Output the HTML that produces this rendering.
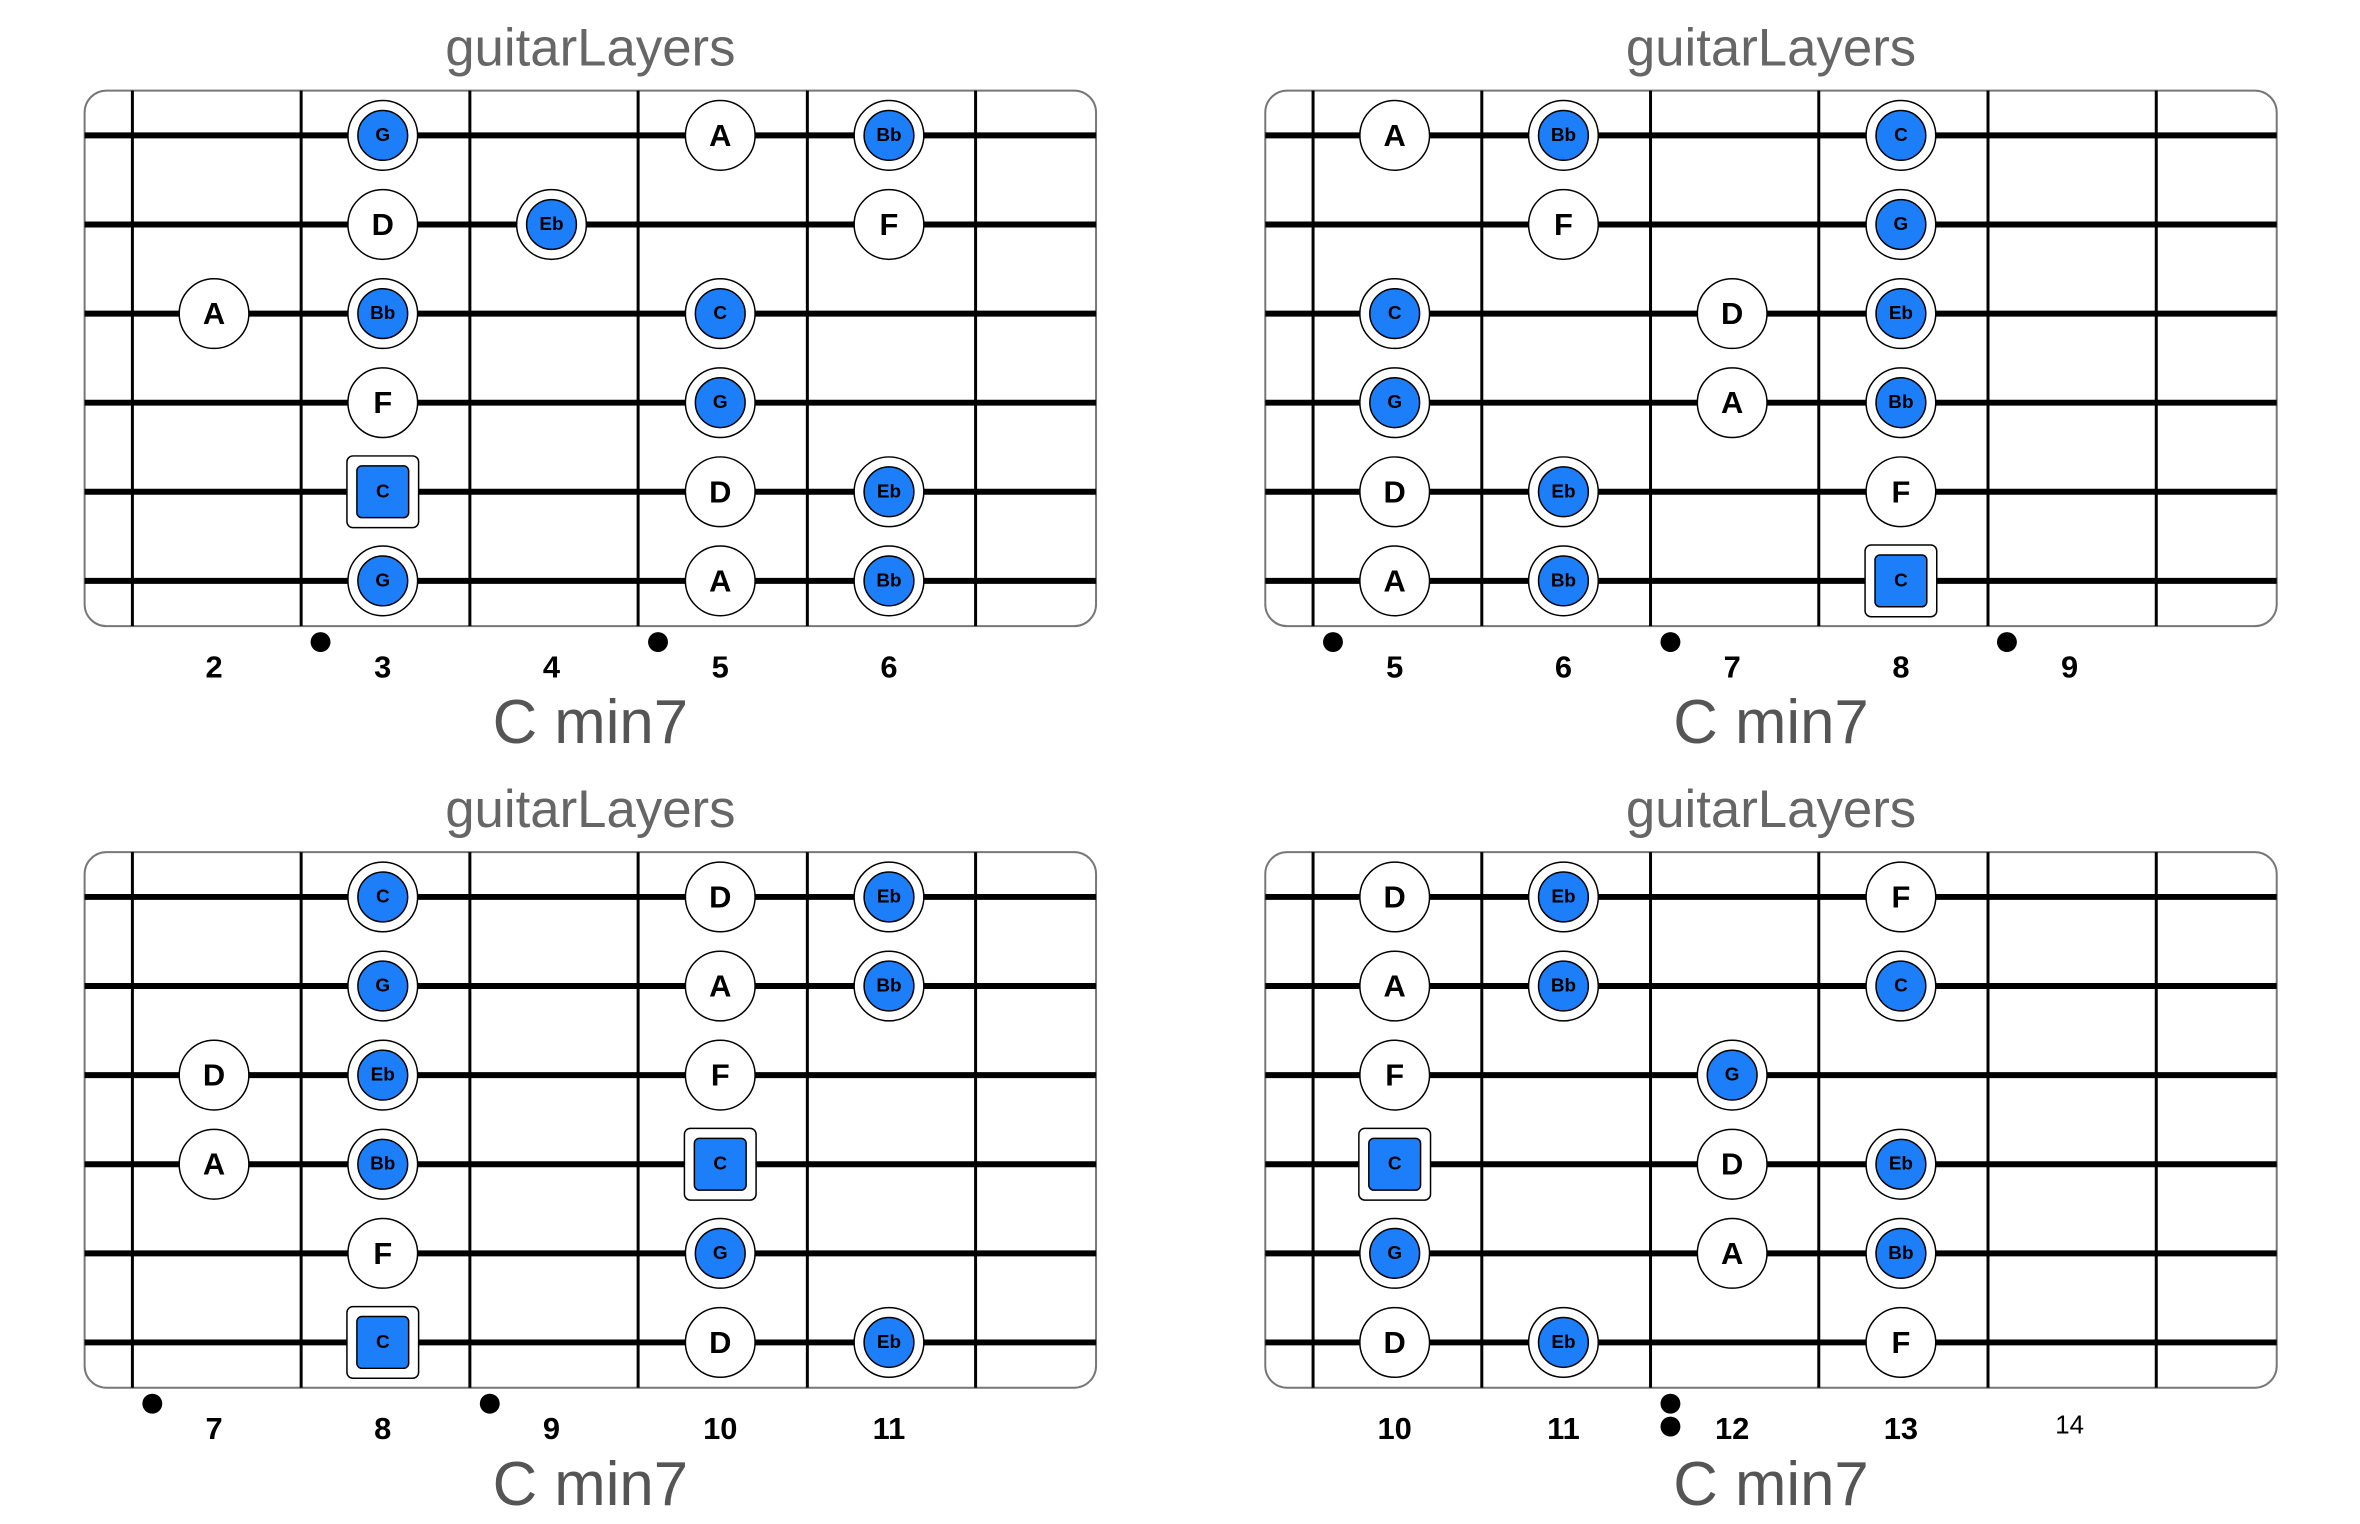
<!DOCTYPE html>
<html><head><meta charset="utf-8"><style>
html,body{margin:0;padding:0;background:#fff}
svg{display:block}
text{font-family:"Liberation Sans",Arial,sans-serif}
.t{font-size:53px;fill:#666;text-anchor:middle;dominant-baseline:central}
.c{font-size:62px;fill:#555;text-anchor:middle;dominant-baseline:central}
.n{font-size:31px;font-weight:bold;text-anchor:middle;dominant-baseline:central}
.w{font-size:31px;font-weight:bold;text-anchor:middle;dominant-baseline:central}
.b{font-size:19px;font-weight:bold;text-anchor:middle;dominant-baseline:central}
.oc{fill:#fff;stroke:#000;stroke-width:1.5}
.ic{fill:#1c7ef8;stroke:#000;stroke-width:1.5}
</style></head><body>
<svg width="2360" height="1524" viewBox="0 0 2360 1524" xmlns="http://www.w3.org/2000/svg">
<defs>
<g id="board">
<rect x="85" y="91" width="1016" height="538" rx="22" fill="#fff" stroke="#777" stroke-width="2"/>
<g stroke="#000" stroke-width="3">
<line x1="133" y1="91" x2="133" y2="629"/><line x1="302.5" y1="91" x2="302.5" y2="629"/><line x1="472" y1="91" x2="472" y2="629"/><line x1="641" y1="91" x2="641" y2="629"/><line x1="811" y1="91" x2="811" y2="629"/><line x1="980" y1="91" x2="980" y2="629"/>
</g>
<g stroke="#000" stroke-width="6">
<line x1="85" y1="136" x2="1101" y2="136"/><line x1="85" y1="225.5" x2="1101" y2="225.5"/><line x1="85" y1="315" x2="1101" y2="315"/><line x1="85" y1="404.5" x2="1101" y2="404.5"/><line x1="85" y1="494" x2="1101" y2="494"/><line x1="85" y1="583.5" x2="1101" y2="583.5"/>
</g>
</g>
<g id="wc"><circle r="35" class="oc"/></g>
<g id="bc"><circle r="35" class="oc"/><circle r="25" class="ic"/></g>
<g id="rs"><rect x="-36" y="-36" width="72" height="72" rx="6" class="oc"/><rect x="-26" y="-26" width="52" height="52" rx="5" class="ic"/></g>
</defs>
<g transform="scale(0.9955)">
<!-- Panel 1 -->
<g>
<text x="593" y="48" class="t">guitarLayers</text>
<use href="#board"/>
<use href="#bc" x="384.5" y="136"/><text x="384.5" y="136" class="b">G</text>
<use href="#wc" x="723.5" y="136"/><text x="723.5" y="136" class="w">A</text>
<use href="#bc" x="893" y="136"/><text x="893" y="136" class="b">Bb</text>
<use href="#wc" x="384.5" y="225.5"/><text x="384.5" y="225.5" class="w">D</text>
<use href="#bc" x="554" y="225.5"/><text x="554" y="225.5" class="b">Eb</text>
<use href="#wc" x="893" y="225.5"/><text x="893" y="225.5" class="w">F</text>
<use href="#wc" x="215" y="315"/><text x="215" y="315" class="w">A</text>
<use href="#bc" x="384.5" y="315"/><text x="384.5" y="315" class="b">Bb</text>
<use href="#bc" x="723.5" y="315"/><text x="723.5" y="315" class="b">C</text>
<use href="#wc" x="384.5" y="404.5"/><text x="384.5" y="404.5" class="w">F</text>
<use href="#bc" x="723.5" y="404.5"/><text x="723.5" y="404.5" class="b">G</text>
<use href="#rs" x="384.5" y="494"/><text x="384.5" y="494" class="b">C</text>
<use href="#wc" x="723.5" y="494"/><text x="723.5" y="494" class="w">D</text>
<use href="#bc" x="893" y="494"/><text x="893" y="494" class="b">Eb</text>
<use href="#bc" x="384.5" y="583.5"/><text x="384.5" y="583.5" class="b">G</text>
<use href="#wc" x="723.5" y="583.5"/><text x="723.5" y="583.5" class="w">A</text>
<use href="#bc" x="893" y="583.5"/><text x="893" y="583.5" class="b">Bb</text>
<circle cx="322" cy="645" r="10" fill="#000"/><circle cx="661" cy="645" r="10" fill="#000"/>
<text x="215" y="670" class="n">2</text><text x="384.5" y="670" class="n">3</text><text x="554" y="670" class="n">4</text><text x="723.5" y="670" class="n">5</text><text x="893" y="670" class="n">6</text>
<text x="593" y="726" class="c">C min7</text>
</g>

<!-- Panel 2 -->
<g transform="translate(1186,0)">
<text x="593" y="48" class="t">guitarLayers</text>
<use href="#board"/>
<use href="#wc" x="215" y="136"/><text x="215" y="136" class="w">A</text>
<use href="#bc" x="384.5" y="136"/><text x="384.5" y="136" class="b">Bb</text>
<use href="#bc" x="723.5" y="136"/><text x="723.5" y="136" class="b">C</text>
<use href="#wc" x="384.5" y="225.5"/><text x="384.5" y="225.5" class="w">F</text>
<use href="#bc" x="723.5" y="225.5"/><text x="723.5" y="225.5" class="b">G</text>
<use href="#bc" x="215" y="315"/><text x="215" y="315" class="b">C</text>
<use href="#wc" x="554" y="315"/><text x="554" y="315" class="w">D</text>
<use href="#bc" x="723.5" y="315"/><text x="723.5" y="315" class="b">Eb</text>
<use href="#bc" x="215" y="404.5"/><text x="215" y="404.5" class="b">G</text>
<use href="#wc" x="554" y="404.5"/><text x="554" y="404.5" class="w">A</text>
<use href="#bc" x="723.5" y="404.5"/><text x="723.5" y="404.5" class="b">Bb</text>
<use href="#wc" x="215" y="494"/><text x="215" y="494" class="w">D</text>
<use href="#bc" x="384.5" y="494"/><text x="384.5" y="494" class="b">Eb</text>
<use href="#wc" x="723.5" y="494"/><text x="723.5" y="494" class="w">F</text>
<use href="#wc" x="215" y="583.5"/><text x="215" y="583.5" class="w">A</text>
<use href="#bc" x="384.5" y="583.5"/><text x="384.5" y="583.5" class="b">Bb</text>
<use href="#rs" x="723.5" y="583.5"/><text x="723.5" y="583.5" class="b">C</text>
<circle cx="153" cy="645" r="10" fill="#000"/><circle cx="492" cy="645" r="10" fill="#000"/><circle cx="830" cy="645" r="10" fill="#000"/>
<text x="215" y="670" class="n">5</text><text x="384.5" y="670" class="n">6</text><text x="554" y="670" class="n">7</text><text x="723.5" y="670" class="n">8</text><text x="893" y="670" class="n">9</text>
<text x="593" y="726" class="c">C min7</text>
</g>

<!-- Panel 3 -->
<g transform="translate(0,765)">
<text x="593" y="48" class="t">guitarLayers</text>
<use href="#board"/>
<use href="#bc" x="384.5" y="136"/><text x="384.5" y="136" class="b">C</text>
<use href="#wc" x="723.5" y="136"/><text x="723.5" y="136" class="w">D</text>
<use href="#bc" x="893" y="136"/><text x="893" y="136" class="b">Eb</text>
<use href="#bc" x="384.5" y="225.5"/><text x="384.5" y="225.5" class="b">G</text>
<use href="#wc" x="723.5" y="225.5"/><text x="723.5" y="225.5" class="w">A</text>
<use href="#bc" x="893" y="225.5"/><text x="893" y="225.5" class="b">Bb</text>
<use href="#wc" x="215" y="315"/><text x="215" y="315" class="w">D</text>
<use href="#bc" x="384.5" y="315"/><text x="384.5" y="315" class="b">Eb</text>
<use href="#wc" x="723.5" y="315"/><text x="723.5" y="315" class="w">F</text>
<use href="#wc" x="215" y="404.5"/><text x="215" y="404.5" class="w">A</text>
<use href="#bc" x="384.5" y="404.5"/><text x="384.5" y="404.5" class="b">Bb</text>
<use href="#rs" x="723.5" y="404.5"/><text x="723.5" y="404.5" class="b">C</text>
<use href="#wc" x="384.5" y="494"/><text x="384.5" y="494" class="w">F</text>
<use href="#bc" x="723.5" y="494"/><text x="723.5" y="494" class="b">G</text>
<use href="#rs" x="384.5" y="583.5"/><text x="384.5" y="583.5" class="b">C</text>
<use href="#wc" x="723.5" y="583.5"/><text x="723.5" y="583.5" class="w">D</text>
<use href="#bc" x="893" y="583.5"/><text x="893" y="583.5" class="b">Eb</text>
<circle cx="153" cy="645" r="10" fill="#000"/><circle cx="492" cy="645" r="10" fill="#000"/>
<text x="215" y="670" class="n">7</text><text x="384.5" y="670" class="n">8</text><text x="554" y="670" class="n">9</text><text x="723.5" y="670" class="n">10</text><text x="893" y="670" class="n">11</text>
<text x="593" y="726" class="c">C min7</text>
</g>

<!-- Panel 4 -->
<g transform="translate(1186,765)">
<text x="593" y="48" class="t">guitarLayers</text>
<use href="#board"/>
<use href="#wc" x="215" y="136"/><text x="215" y="136" class="w">D</text>
<use href="#bc" x="384.5" y="136"/><text x="384.5" y="136" class="b">Eb</text>
<use href="#wc" x="723.5" y="136"/><text x="723.5" y="136" class="w">F</text>
<use href="#wc" x="215" y="225.5"/><text x="215" y="225.5" class="w">A</text>
<use href="#bc" x="384.5" y="225.5"/><text x="384.5" y="225.5" class="b">Bb</text>
<use href="#bc" x="723.5" y="225.5"/><text x="723.5" y="225.5" class="b">C</text>
<use href="#wc" x="215" y="315"/><text x="215" y="315" class="w">F</text>
<use href="#bc" x="554" y="315"/><text x="554" y="315" class="b">G</text>
<use href="#rs" x="215" y="404.5"/><text x="215" y="404.5" class="b">C</text>
<use href="#wc" x="554" y="404.5"/><text x="554" y="404.5" class="w">D</text>
<use href="#bc" x="723.5" y="404.5"/><text x="723.5" y="404.5" class="b">Eb</text>
<use href="#bc" x="215" y="494"/><text x="215" y="494" class="b">G</text>
<use href="#wc" x="554" y="494"/><text x="554" y="494" class="w">A</text>
<use href="#bc" x="723.5" y="494"/><text x="723.5" y="494" class="b">Bb</text>
<use href="#wc" x="215" y="583.5"/><text x="215" y="583.5" class="w">D</text>
<use href="#bc" x="384.5" y="583.5"/><text x="384.5" y="583.5" class="b">Eb</text>
<use href="#wc" x="723.5" y="583.5"/><text x="723.5" y="583.5" class="w">F</text>
<circle cx="492" cy="645" r="10" fill="#000"/><circle cx="492" cy="668" r="10" fill="#000"/>
<text x="215" y="670" class="n">10</text><text x="384.5" y="670" class="n">11</text><text x="554" y="670" class="n">12</text><text x="723.5" y="670" class="n">13</text><text x="893" y="667" style="font-size:26px;text-anchor:middle;dominant-baseline:central">14</text>
<text x="593" y="726" class="c">C min7</text>
</g>
</g>
</svg>
</body></html>
